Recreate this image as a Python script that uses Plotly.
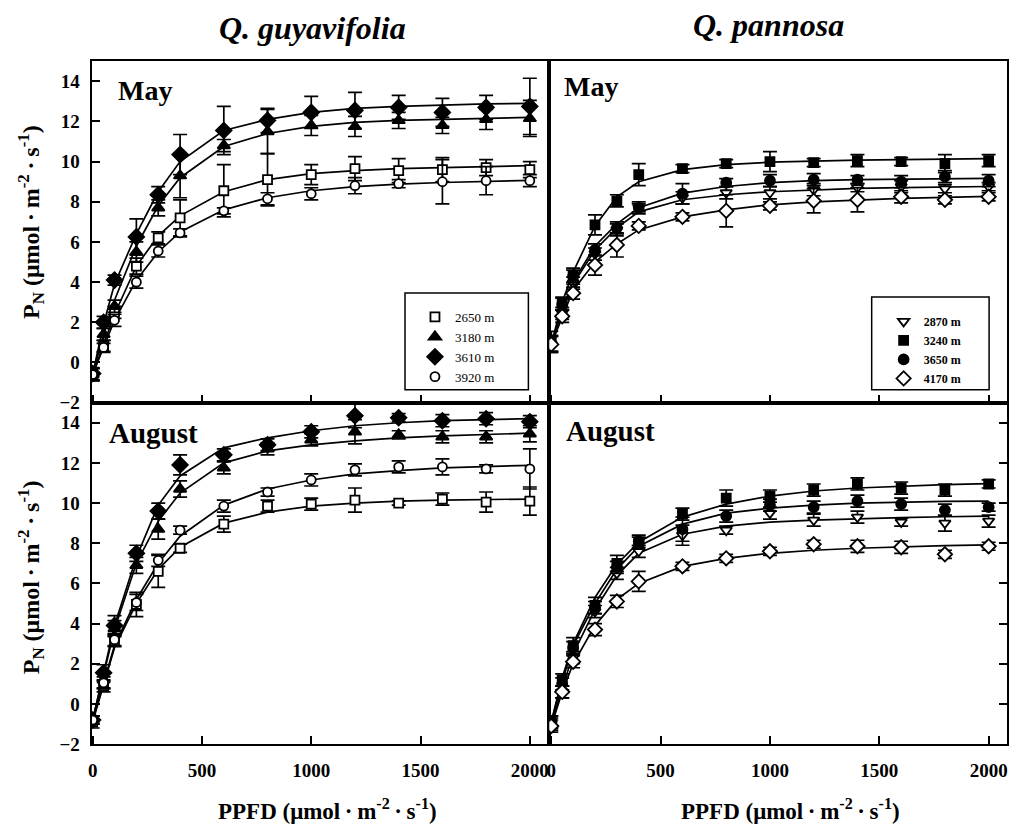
import plotly.graph_objects as go

W, H = 1011, 837

ppfd = [0, 50, 100, 200, 300, 400, 600, 800, 1000, 1200, 1400, 1600, 1800, 2000]
x_ticks = [0, 500, 1000, 1500, 2000]
y_ticks = [-2, 0, 2, 4, 6, 8, 10, 12, 14]

# ---- Q. guyavifolia, May ----
gu_may_2650 = [-0.6, 0.8, 2.5, 4.8, 6.2, 7.2, 8.55, 9.1, 9.35, 9.65, 9.55, 9.6, 9.7, 9.6]
gu_may_2650_err = [0.3, 0.3, 0.3, 0.4, 0.3, 0.9, 1.3, 1.3, 0.5, 0.6, 0.6, 0.6, 0.4, 0.4]
gu_may_2650_fit = [-0.6, 0.9, 2.4, 4.8, 6.3, 7.3, 8.5, 9.1, 9.4, 9.55, 9.65, 9.7, 9.75, 9.8]
gu_may_3180 = [-0.6, 1.4, 2.8, 5.5, 7.7, 9.3, 10.8, 11.5, 11.8, 11.75, 12.05, 11.8, 12.1, 12.15]
gu_may_3180_err = [0.3, 0.3, 0.3, 0.5, 0.4, 1.1, 0.3, 1.1, 0.5, 0.5, 0.4, 0.4, 0.5, 0.9]
gu_may_3180_fit = [-0.6, 1.4, 3.1, 5.8, 7.8, 9.2, 10.75, 11.4, 11.75, 11.95, 12.05, 12.1, 12.15, 12.2]
gu_may_3610 = [-0.55, 2.0, 4.1, 6.25, 8.35, 10.35, 11.55, 12.05, 12.45, 12.55, 12.7, 12.45, 12.7, 12.75]
gu_may_3610_err = [0.3, 0.3, 0.25, 0.9, 0.4, 1.0, 1.2, 0.6, 0.8, 0.9, 0.6, 0.7, 0.6, 1.4]
gu_may_3610_fit = [-0.6, 1.9, 3.9, 6.4, 8.5, 10.0, 11.55, 12.1, 12.45, 12.65, 12.75, 12.82, 12.87, 12.9]
gu_may_3920 = [-0.6, 0.75, 2.1, 4.0, 5.55, 6.45, 7.55, 8.15, 8.4, 8.8, 8.9, 9.0, 9.05, 9.05]
gu_may_3920_err = [0.3, 0.2, 0.3, 0.3, 0.3, 0.2, 0.15, 0.3, 0.3, 0.4, 0.2, 1.1, 0.7, 0.3]
gu_may_3920_fit = [-0.6, 0.8, 2.1, 4.1, 5.5, 6.5, 7.6, 8.2, 8.55, 8.75, 8.88, 8.96, 9.02, 9.07]

# ---- Q. guyavifolia, August ----
gu_aug_2650 = [-0.9, 0.9, 3.15, 4.95, 6.6, 7.75, 8.95, 9.85, 9.95, 10.15, 10.0, 10.2, 10.05, 10.1]
gu_aug_2650_err = [0.3, 0.3, 0.3, 0.6, 0.8, 0.2, 0.4, 0.3, 0.3, 0.6, 0.1, 0.3, 0.5, 0.7]
gu_aug_2650_fit = [-0.9, 0.9, 2.8, 5.0, 6.7, 7.8, 9.0, 9.55, 9.85, 10.0, 10.1, 10.15, 10.18, 10.2]
gu_aug_3180 = [-0.8, 1.2, 3.75, 6.9, 8.7, 10.7, 11.75, 12.7, 13.15, 13.55, 13.4, 13.3, 13.3, 13.45]
gu_aug_3180_err = [0.2, 0.4, 0.4, 0.4, 0.5, 0.4, 0.3, 0.3, 0.3, 0.6, 0.2, 0.3, 0.3, 0.4]
gu_aug_3180_fit = [-0.8, 1.5, 3.7, 7.0, 9.1, 10.5, 12.0, 12.6, 12.9, 13.1, 13.25, 13.35, 13.42, 13.48]
gu_aug_3610 = [-0.8, 1.55, 3.9, 7.5, 9.6, 11.9, 12.4, 12.9, 13.55, 14.35, 14.25, 14.1, 14.2, 14.05]
gu_aug_3610_err = [0.2, 0.4, 0.5, 0.4, 0.4, 0.5, 0.3, 0.3, 0.3, 0.6, 0.2, 0.3, 0.3, 0.3]
gu_aug_3610_fit = [-0.8, 1.6, 3.9, 7.3, 9.9, 11.35, 12.75, 13.25, 13.6, 13.85, 14.0, 14.1, 14.15, 14.2]
gu_aug_3920 = [-0.8, 1.05, 3.2, 5.05, 7.15, 8.65, 9.85, 10.55, 11.15, 11.65, 11.8, 11.8, 11.7, 11.7]
gu_aug_3920_err = [0.2, 0.3, 0.3, 0.4, 0.3, 0.2, 0.3, 0.2, 0.3, 0.3, 0.3, 0.4, 0.2, 1.0]
gu_aug_3920_fit = [-0.8, 1.1, 2.9, 5.2, 7.0, 8.35, 9.9, 10.7, 11.15, 11.45, 11.62, 11.75, 11.82, 11.88]

# ---- Q. pannosa, May ----
pa_may_2870 = [0.9, 2.45, 3.95, 5.4, 6.6, 7.7, 8.2, 8.45, 8.45, 8.6, 8.7, 8.75, 8.65, 8.75]
pa_may_2870_err = [0.4, 0.3, 0.3, 0.3, 0.3, 0.2, 0.3, 0.3, 0.3, 0.3, 0.2, 0.3, 0.2, 0.2]
pa_may_2870_fit = [0.9, 2.6, 3.9, 5.6, 6.7, 7.5, 8.1, 8.35, 8.5, 8.6, 8.67, 8.71, 8.74, 8.76]
pa_may_3240 = [1.05, 2.95, 4.3, 6.85, 8.05, 9.35, 9.65, 9.9, 10.0, 9.95, 10.05, 10.0, 9.9, 10.05]
pa_may_3240_err = [0.5, 0.3, 0.4, 0.5, 0.3, 0.55, 0.2, 0.2, 0.5, 0.2, 0.3, 0.2, 0.45, 0.3]
pa_may_3240_fit = [0.9, 3.0, 4.5, 6.8, 8.25, 9.0, 9.6, 9.85, 9.97, 10.03, 10.07, 10.1, 10.12, 10.15]
pa_may_3650 = [0.95, 2.9, 4.3, 5.6, 6.7, 7.7, 8.4, 8.95, 9.05, 9.1, 9.1, 9.0, 9.25, 9.05]
pa_may_3650_err = [0.4, 0.3, 0.3, 0.3, 0.3, 0.3, 0.5, 0.2, 0.3, 0.3, 0.2, 0.3, 0.3, 0.3]
pa_may_3650_fit = [0.9, 2.7, 4.0, 5.8, 6.9, 7.7, 8.43, 8.76, 8.95, 9.05, 9.1, 9.13, 9.15, 9.17]
pa_may_4170 = [0.9, 2.3, 3.45, 4.85, 5.85, 6.8, 7.25, 7.55, 7.8, 8.05, 8.1, 8.25, 8.1, 8.25]
pa_may_4170_err = [0.4, 0.3, 0.3, 0.5, 0.6, 0.2, 0.2, 0.8, 0.2, 0.6, 0.6, 0.3, 0.2, 0.2]
pa_may_4170_fit = [0.9, 2.3, 3.6, 5.0, 5.9, 6.6, 7.25, 7.6, 7.85, 8.0, 8.1, 8.17, 8.22, 8.27]

# ---- Q. pannosa, August ----
pa_aug_2870 = [-1.0, 0.6, 2.3, 4.6, 6.5, 7.6, 8.4, 8.65, 9.5, 9.15, 9.3, 9.05, 9.0, 9.1]
pa_aug_2870_err = [0.3, 0.3, 0.3, 0.3, 0.3, 0.3, 0.5, 0.2, 0.3, 0.3, 0.3, 0.2, 0.4, 0.3]
pa_aug_2870_fit = [-1.0, 0.8, 2.5, 4.7, 6.4, 7.5, 8.45, 8.85, 9.05, 9.15, 9.22, 9.28, 9.32, 9.35]
pa_aug_3240 = [-0.9, 1.2, 2.9, 4.9, 7.0, 8.0, 9.45, 10.25, 10.35, 10.65, 10.95, 10.75, 10.65, 10.95]
pa_aug_3240_err = [0.3, 0.3, 0.4, 0.4, 0.4, 0.3, 0.3, 0.4, 0.3, 0.3, 0.3, 0.3, 0.3, 0.2]
pa_aug_3240_fit = [-0.9, 1.3, 3.0, 5.3, 6.95, 8.05, 9.3, 9.95, 10.35, 10.6, 10.75, 10.85, 10.92, 10.97]
pa_aug_3650 = [-0.9, 1.0, 2.8, 4.8, 6.8, 8.1, 8.7, 9.35, 9.9, 9.8, 10.1, 9.95, 9.65, 9.8]
pa_aug_3650_err = [0.3, 0.3, 0.3, 0.3, 0.3, 0.3, 0.6, 0.3, 0.3, 0.3, 0.3, 0.3, 0.3, 0.2]
pa_aug_3650_fit = [-0.9, 1.1, 2.9, 5.0, 6.7, 7.85, 8.95, 9.5, 9.75, 9.9, 10.0, 10.05, 10.08, 10.1]
pa_aug_4170 = [-1.1, 0.6, 2.1, 3.7, 5.1, 6.1, 6.85, 7.25, 7.6, 7.95, 7.85, 7.8, 7.45, 7.85]
pa_aug_4170_err = [0.3, 0.3, 0.3, 0.3, 0.3, 0.5, 0.2, 0.2, 0.2, 0.2, 0.3, 0.3, 0.2, 0.2]
pa_aug_4170_fit = [-1.1, 0.6, 2.0, 3.9, 5.2, 6.0, 6.85, 7.25, 7.5, 7.65, 7.75, 7.82, 7.88, 7.92]

SERIF = "Liberation Serif, Times New Roman, serif"

# symbol, fill, size
sty = {
    "2650 m": ("square", "white", 9),
    "3180 m": ("triangle-up", "black", 11),
    "3610 m": ("diamond", "black", 12),
    "3920 m": ("circle", "white", 9),
    "2870 m": ("triangle-down", "white", 10),
    "3240 m": ("square", "black", 9),
    "3650 m": ("circle", "black", 10),
    "4170 m": ("diamond", "white", 11),
}

panels = [
    ("x", "y", [("2650 m", gu_may_2650, gu_may_2650_err, gu_may_2650_fit),
                ("3180 m", gu_may_3180, gu_may_3180_err, gu_may_3180_fit),
                ("3610 m", gu_may_3610, gu_may_3610_err, gu_may_3610_fit),
                ("3920 m", gu_may_3920, gu_may_3920_err, gu_may_3920_fit)], "legend"),
    ("x2", "y2", [("2870 m", pa_may_2870, pa_may_2870_err, pa_may_2870_fit),
                  ("3240 m", pa_may_3240, pa_may_3240_err, pa_may_3240_fit),
                  ("3650 m", pa_may_3650, pa_may_3650_err, pa_may_3650_fit),
                  ("4170 m", pa_may_4170, pa_may_4170_err, pa_may_4170_fit)], "legend2"),
    ("x3", "y3", [("2650 m", gu_aug_2650, gu_aug_2650_err, gu_aug_2650_fit),
                  ("3180 m", gu_aug_3180, gu_aug_3180_err, gu_aug_3180_fit),
                  ("3610 m", gu_aug_3610, gu_aug_3610_err, gu_aug_3610_fit),
                  ("3920 m", gu_aug_3920, gu_aug_3920_err, gu_aug_3920_fit)], None),
    ("x4", "y4", [("2870 m", pa_aug_2870, pa_aug_2870_err, pa_aug_2870_fit),
                  ("3240 m", pa_aug_3240, pa_aug_3240_err, pa_aug_3240_fit),
                  ("3650 m", pa_aug_3650, pa_aug_3650_err, pa_aug_3650_fit),
                  ("4170 m", pa_aug_4170, pa_aug_4170_err, pa_aug_4170_fit)], None),
]

fig = go.Figure()
for xa, ya, series, leg in panels:
    for name, vals, err, fit in series:
        fig.add_trace(go.Scatter(x=ppfd, y=fit, mode="lines", xaxis=xa, yaxis=ya,
                                 line=dict(color="black", width=1.7), showlegend=False,
                                 hoverinfo="skip"))
    for name, vals, err, fit in series:
        sym, fill, size = sty[name]
        kw = dict(legend=leg, showlegend=True) if leg else dict(showlegend=False)
        fig.add_trace(go.Scatter(
            x=ppfd, y=vals, mode="markers", name=name, xaxis=xa, yaxis=ya,
            marker=dict(symbol=sym, color=fill, size=size,
                        line=dict(color="black", width=1.8)),
            error_y=dict(type="data", array=err, color="black", thickness=1.7, width=7),
            **kw))

# layout geometry (pixels -> paper)
xl = [88 / W, 548 / W]
xr = [548 / W, 1008 / W]
yt = [1 - 408 / H, 1 - 62 / H]
yb = [1 - 754 / H, 1 - 408 / H]

ytickfont = dict(family=SERIF, size=19, color="black", weight="bold")
xtickfont = dict(family=SERIF, size=19, color="black", weight="bold")
base = dict(showline=True, linecolor="black", linewidth=2, mirror=True, ticks="inside",
            ticklen=8, tickwidth=1.6, tickcolor="black", showgrid=False, zeroline=False)

fig.update_layout(
    width=W, height=H, margin=dict(l=0, r=0, t=0, b=0),
    paper_bgcolor="white", plot_bgcolor="white",
    xaxis=dict(domain=xl, anchor="y", range=[-5, 2089], tickvals=x_ticks, showticklabels=False, **base),
    xaxis2=dict(domain=xr, anchor="y2", range=[-9, 2084], tickvals=x_ticks, showticklabels=False, **base),
    xaxis3=dict(domain=xl, anchor="y3", range=[-5, 2089], tickvals=x_ticks, ticklabelstandoff=8,
                tickfont=xtickfont, **base),
    xaxis4=dict(domain=xr, anchor="y4", range=[-9, 2084], tickvals=x_ticks, ticklabelstandoff=8,
                tickfont=xtickfont, **base),
    yaxis=dict(domain=yt, anchor="x", range=[-2, 15], tickvals=y_ticks, ticklabelstandoff=6,
               tickfont=ytickfont, **base),
    yaxis3=dict(domain=yb, anchor="x3", range=[-2, 15], tickvals=y_ticks, ticklabelstandoff=6,
                tickfont=ytickfont, **base),
    yaxis2=dict(domain=yt, anchor="x2", range=[-2, 15], showline=True, linecolor="black", linewidth=2,
                mirror=True, ticks="", showticklabels=False, showgrid=False, zeroline=False),
    yaxis4=dict(domain=yb, anchor="x4", range=[-2, 15], side="right", tickvals=y_ticks[1:],
                showticklabels=False, **base),
    yaxis5=dict(overlaying="y2", anchor="x2", side="right", range=[0, 9.5],
                tickvals=[1, 2, 3, 4, 5, 6, 7, 8, 9], showticklabels=False, ticks="inside",
                ticklen=8, tickwidth=1.6, tickcolor="black", showgrid=False, zeroline=False,
                showline=False),
    legend=dict(x=413 / W, y=1 - 306 / H, xanchor="left", yanchor="top",
                bgcolor="rgba(0,0,0,0)", borderwidth=0,
                font=dict(family=SERIF, size=13, color="black"), itemwidth=30, tracegroupgap=0),
    legend2=dict(x=884 / W, y=1 - 311 / H, xanchor="left", yanchor="top",
                 bgcolor="rgba(0,0,0,0)", borderwidth=0,
                 font=dict(family=SERIF, size=12, color="black", weight="bold"), itemwidth=30,
                 tracegroupgap=0),
)

# legend frames
for x0, x1, y0, y1 in [(403, 527, 297, 395), (872, 990, 301, 395)]:
    fig.add_shape(type="rect", xref="paper", yref="paper",
                  x0=x0 / W, x1=x1 / W, y0=1 - y1 / H, y1=1 - y0 / H,
                  line=dict(color="black", width=1.5), fillcolor="rgba(0,0,0,0)")

ann_font = dict(family=SERIF, color="black", weight="bold")
# panel labels
for xr_, yr_, txt, xx, yy, fs in [("x domain", "y domain", "May", 0.054, 0.913, 28),
                                  ("x2 domain", "y2 domain", "May", 0.027, 0.925, 28),
                                  ("x3 domain", "y3 domain", "August", 0.033, 0.91, 29),
                                  ("x4 domain", "y4 domain", "August", 0.033, 0.916, 29)]:
    fig.add_annotation(text=txt, xref=xr_, yref=yr_, x=xx, y=yy, xanchor="left",
                       yanchor="middle", showarrow=False, font=dict(size=fs, **ann_font))

# species titles
for txt, xx, yy in [("Q. guyavifolia", 310, 28), ("Q. pannosa", 768, 25)]:
    fig.add_annotation(text=txt, xref="paper", yref="paper", x=xx / W, y=1 - yy / H,
                       xanchor="center", yanchor="middle",
                       showarrow=False, font=dict(size=32, style="italic", **ann_font))

ytitle = "P<sub>N</sub> (μmol\u2009·\u2009m<sup>-2</sup>\u2009·\u2009s<sup>-1</sup>)"
xtitle = "PPFD (μmol\u2009·\u2009m<sup>-2</sup>\u2009·\u2009s<sup>-1</sup>)"
for yy in [225, 585]:
    fig.add_annotation(text=ytitle, xref="paper", yref="paper", x=27 / W, y=1 - yy / H,
                       xanchor="center", yanchor="middle",
                       textangle=-90, showarrow=False, font=dict(size=24, **ann_font))
for xx in [325, 790]:
    fig.add_annotation(text=xtitle, xref="paper", yref="paper", x=xx / W, y=1 - 820 / H,
                       xanchor="center", yanchor="middle",
                       showarrow=False, font=dict(size=23, **ann_font))

fig.write_html("out.html")
